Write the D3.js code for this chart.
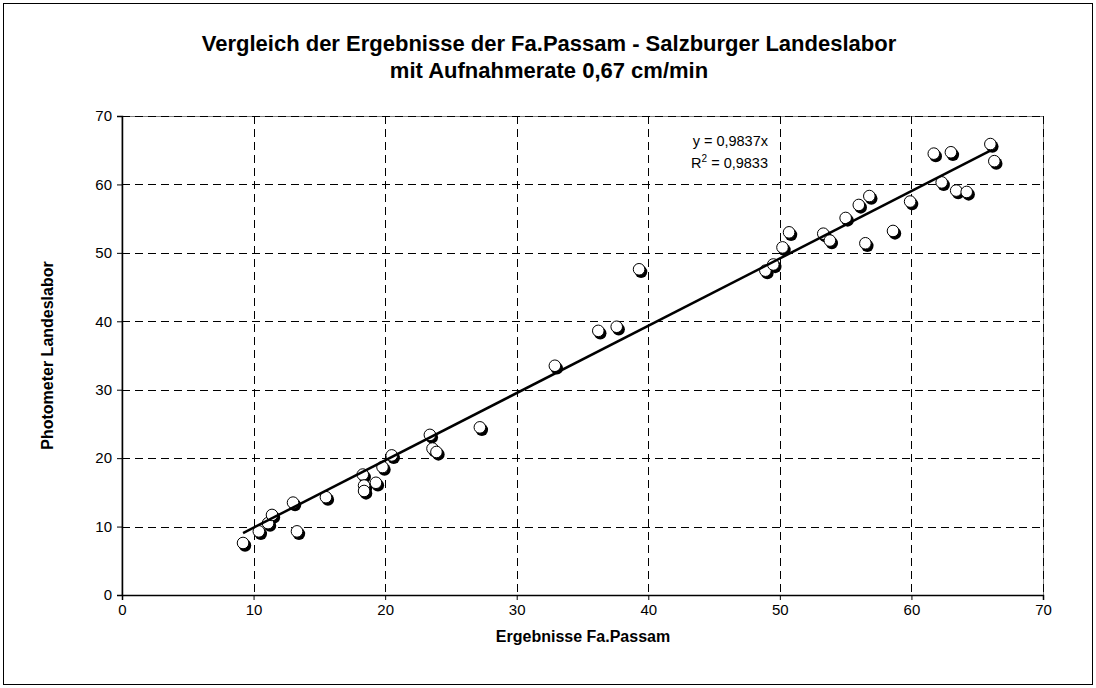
<!DOCTYPE html>
<html>
<head>
<meta charset="utf-8">
<script src="https://cdn.jsdelivr.net/npm/d3@7"></script>
<style>
  body { margin: 0; background: #fff; }
  text { font-family: "Liberation Sans", Arial, sans-serif; }
</style>
</head>
<body>
<div id="chart"></div>
<script>
// values
var passam = [9.2, 10.4, 11.1, 11.4, 13.0, 13.3, 15.5, 18.3, 18.4, 18.4, 19.3, 19.8, 20.5,
  23.4, 23.6, 23.9, 27.2, 32.9, 36.2, 37.6, 39.3, 48.9, 49.5, 50.2, 50.7, 53.3, 53.8,
  55.0, 56.0, 56.8, 56.5, 58.6, 59.9, 61.7, 62.3, 63.0, 63.4, 64.2, 66.0, 66.3];
var landeslabor = [7.6, 9.3, 10.5, 11.7, 13.5, 9.3, 14.3, 17.6, 16.0, 15.2, 16.4, 18.7, 20.4,
  23.4, 21.4, 20.9, 24.5, 33.5, 38.6, 39.2, 47.6, 47.4, 48.3, 50.8, 53.0, 52.8, 51.8,
  55.1, 57.0, 58.3, 51.4, 53.2, 57.5, 64.5, 60.3, 64.7, 59.1, 58.9, 65.9, 63.4];
var slope = 0.9837;
var fitRange = [9.2, 66.0];
var xTicks = [0, 10, 20, 30, 40, 50, 60, 70];
var yTicks = [0, 10, 20, 30, 40, 50, 60, 70];

var width = 1096, height = 688;
var mLeft = 122, mRight = 1043, mTop = 116, mBottom = 595;

var svg = d3.select("#chart").append("svg")
  .attr("width", width)
  .attr("height", height);

// outer frame
svg.append("rect")
  .attr("x", 3.5).attr("y", 3.5)
  .attr("width", width - 7).attr("height", height - 7)
  .attr("fill", "#fff")
  .attr("stroke", "#000").attr("stroke-width", 1);

var x = d3.scaleLinear().domain([0, 70]).range([mLeft, mRight]);
var y = d3.scaleLinear().domain([0, 70]).range([mBottom, mTop]);

// plot area border
svg.append("rect")
  .attr("x", mLeft).attr("y", mTop + 0.5)
  .attr("width", mRight - mLeft + 0.5).attr("height", mBottom - mTop)
  .attr("fill", "none")
  .attr("stroke", "#808080");

// grid
svg.append("g").selectAll("line")
  .data(xTicks.slice(1))
  .enter().append("line")
  .attr("x1", d => Math.round(x(d)) + 0.5).attr("x2", d => Math.round(x(d)) + 0.5)
  .attr("y1", mTop).attr("y2", mBottom)
  .attr("stroke", "#000").attr("stroke-dasharray", "8,5");

svg.append("g").selectAll("line")
  .data(yTicks.slice(1))
  .enter().append("line")
  .attr("x1", mLeft).attr("x2", mRight)
  .attr("y1", d => Math.round(y(d)) + 0.5).attr("y2", d => Math.round(y(d)) + 0.5)
  .attr("stroke", "#000").attr("stroke-dasharray", "8,5");

// axes
var xAxis = svg.append("g")
  .attr("transform", "translate(0," + mBottom + ")")
  .call(d3.axisBottom(x).tickValues(xTicks).tickSize(5).tickPadding(4));
var yAxis = svg.append("g")
  .attr("transform", "translate(" + mLeft + ",0)")
  .call(d3.axisLeft(y).tickValues(yTicks).tickSize(5).tickPadding(5));

[xAxis, yAxis].forEach(function (a) {
  a.select(".domain").attr("stroke", "#000").attr("stroke-width", 1.5);
  a.selectAll(".tick line").attr("stroke", "#000");
  a.selectAll(".tick text")
    .style("font-family", "'Liberation Sans', Arial, sans-serif")
    .style("font-size", "15px")
    .attr("fill", "#000");
});

// points: black shadow then white circle
var pts = passam.map((d, i) => [d, landeslabor[i]]);

svg.append("g").selectAll("circle")
  .data(pts)
  .enter().append("circle")
  .attr("cx", d => x(d[0]) + 2)
  .attr("cy", d => y(d[1]) + 2.5)
  .attr("r", 6.2)
  .attr("fill", "#000");

svg.append("g").selectAll("circle")
  .data(pts)
  .enter().append("circle")
  .attr("cx", d => x(d[0]))
  .attr("cy", d => y(d[1]))
  .attr("r", 5.8)
  .attr("fill", "#fff")
  .attr("stroke", "#000")
  .attr("stroke-width", 1);

// trend line
svg.append("line")
  .attr("x1", x(fitRange[0])).attr("y1", y(slope * fitRange[0]))
  .attr("x2", x(fitRange[1])).attr("y2", y(slope * fitRange[1]))
  .attr("stroke", "#000").attr("stroke-width", 2.5);

// equation
var eq = svg.append("g").attr("font-size", "14.5px").attr("text-anchor", "end");
eq.append("text").attr("x", 768).attr("y", 146).text("y = 0,9837x");
var r2 = eq.append("text").attr("x", 768).attr("y", 168);
r2.append("tspan").text("R");
r2.append("tspan").attr("font-size", "10px").attr("dy", -6).text("2");
r2.append("tspan").attr("dy", 6).text(" = 0,9833");

// titles
svg.append("text")
  .attr("x", 549).attr("y", 51)
  .attr("text-anchor", "middle")
  .attr("font-size", "22px").attr("font-weight", "bold")
  .text("Vergleich der Ergebnisse der Fa.Passam - Salzburger Landeslabor");
svg.append("text")
  .attr("x", 549).attr("y", 78)
  .attr("text-anchor", "middle")
  .attr("font-size", "22px").attr("font-weight", "bold")
  .text("mit Aufnahmerate 0,67 cm/min");

svg.append("text")
  .attr("x", 583).attr("y", 642)
  .attr("text-anchor", "middle")
  .attr("font-size", "16px").attr("font-weight", "bold")
  .text("Ergebnisse Fa.Passam");

svg.append("text")
  .attr("transform", "translate(53," + ((mTop + mBottom) / 2) + ") rotate(-90)")
  .attr("text-anchor", "middle")
  .attr("font-size", "16px").attr("font-weight", "bold")
  .text("Photometer Landeslabor");
</script>
</body>
</html>
